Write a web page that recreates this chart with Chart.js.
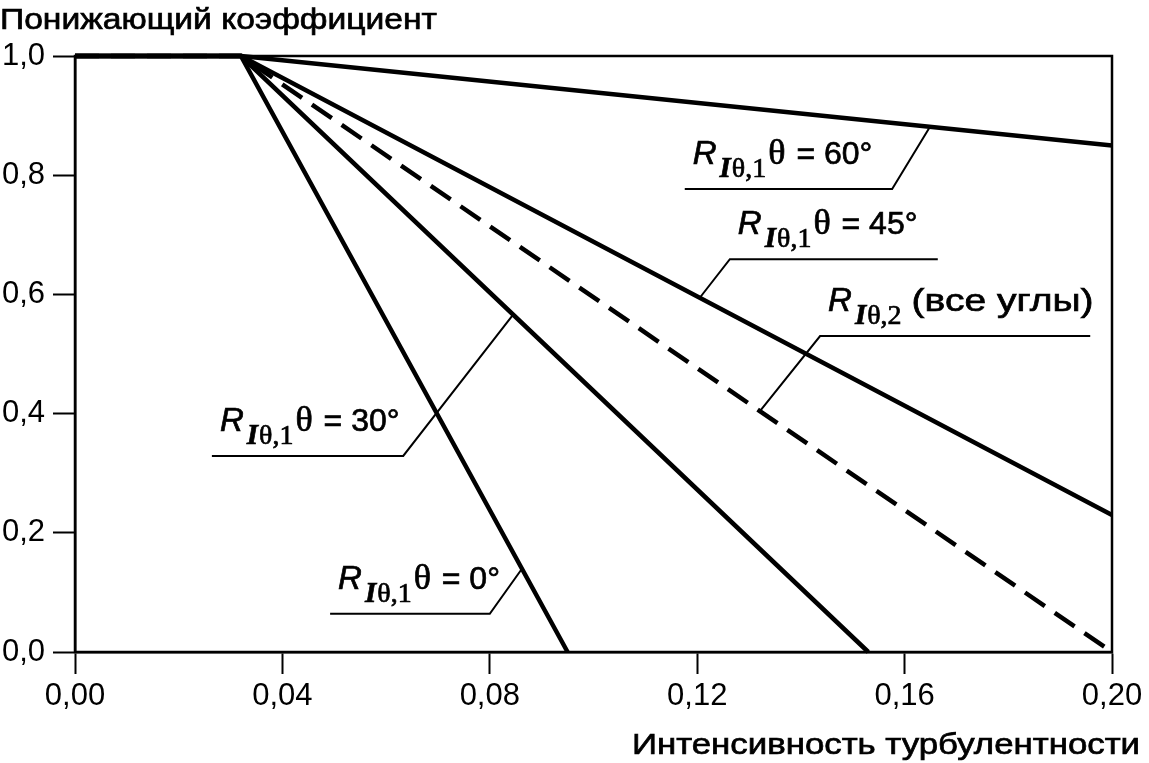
<!DOCTYPE html>
<html>
<head>
<meta charset="utf-8">
<script src="https://cdn.jsdelivr.net/npm/chart.js@4.4.0/dist/chart.umd.min.js"></script>
<style>
  html, body { margin: 0; padding: 0; background: #fff; }
  #wrap { width: 1149px; height: 763px; position: relative; }
</style>
</head>
<body>
<div id="wrap"><canvas id="chart"></canvas></div>
<script>
// reduction factor vs turbulence intensity

// curve vertices: x = turbulence intensity, y = reduction factor
const kneeX = 0.032;
const curveX0 = [0, kneeX, 0.095];   // R_Iθ,1, θ = 0°
const curveY0 = [1, 1, 0];
const curveX30 = [0, kneeX, 0.153];  // θ = 30°
const curveY30 = [1, 1, 0];
const curveX45 = [0, kneeX, 0.20];   // θ = 45°
const curveY45 = [1, 1, 0.23];
const curveX60 = [0, kneeX, 0.20];   // θ = 60°
const curveY60 = [1, 1, 0.85];
const curveXAll = [0, kneeX, 0.20];  // R_Iθ,2, all angles
const curveYAll = [1, 1, 0];

const xTicks = [0, 0.04, 0.08, 0.12, 0.16, 0.20];
const yTicks = [0, 0.2, 0.4, 0.6, 0.8, 1.0];

const yTitle = 'Понижающий коэффициент';
const xTitle = 'Интенсивность турбулентности';

// label pieces: R + subscript + tail
const labelSubs = ['Iθ,1', 'Iθ,1', 'Iθ,1', 'Iθ,1', 'Iθ,2'];
const labelTails = ['θ = 0°', 'θ = 30°', 'θ = 45°', 'θ = 60°', '(все углы)'];

const SANS = '"Liberation Sans", Arial, sans-serif';
const SERIF = '"Liberation Serif", "Times New Roman", serif';

// where the callouts sit (data units): shelf line, and the point on the curve it points to
const callouts = [
  { xs: curveX0, ys: curveY0, shelf: [0.0492, 0.0800], shelfY: 0.064, tipX: 0.0862, end: 'right' },
  { xs: curveX30, ys: curveY30, shelf: [0.0264, 0.0633], shelfY: 0.329, tipX: 0.0845, end: 'right' },
  { xs: curveX45, ys: curveY45, shelf: [0.1263, 0.1664], shelfY: 0.659, tipX: 0.1205, end: 'left' },
  { xs: curveX60, ys: curveY60, shelf: [0.1176, 0.1576], shelfY: 0.777, tipX: 0.1649, end: 'right' },
  { xs: curveXAll, ys: curveYAll, shelf: [0.1437, 0.1958], shelfY: 0.530, tipX: 0.1321, end: 'left' }
];

function pts(xs, ys) {
  return xs.map((x, i) => ({ x: x, y: ys[i] }));
}

function curveAt(xs, ys, x) {
  for (let i = 1; i < xs.length; i++) {
    if (x <= xs[i]) {
      const t = (x - xs[i - 1]) / (xs[i] - xs[i - 1]);
      return ys[i - 1] + t * (ys[i] - ys[i - 1]);
    }
  }
  return ys[ys.length - 1];
}

// fill + a hairline stroke so the text looks a bit heavier, like the scan
function ink(ctx, text, x, y) {
  ctx.fillText(text, x, y);
  ctx.lineWidth = 0.7;
  ctx.strokeText(text, x, y);
}

// text squeezed/stretched to a given width
function fitText(ctx, text, x, y, width) {
  const w = ctx.measureText(text).width;
  ctx.save();
  ctx.translate(x, y);
  ctx.scale(width / w, 1);
  ink(ctx, text, 0, 0);
  ctx.restore();
}

function drawLabel(ctx, x, y, sub, tail) {
  ctx.textAlign = 'left';
  ctx.textBaseline = 'alphabetic';
  ctx.font = 'italic 33px ' + SANS;
  ink(ctx, 'R', x, y);
  x += ctx.measureText('R').width + 3;
  ctx.font = 'italic bold 29px ' + SERIF;
  ink(ctx, sub[0], x, y + 13);
  x += ctx.measureText(sub[0]).width + 1;
  ctx.font = '28px ' + SERIF;
  ink(ctx, sub.slice(1), x, y + 13);
  x += ctx.measureText(sub.slice(1)).width + 2;
  if (tail[0] === 'θ') {
    ctx.font = '36px ' + SERIF;
    ink(ctx, 'θ', x, y);
    x += ctx.measureText('θ').width + 2;
    ctx.font = '32px ' + SANS;
    ink(ctx, tail.slice(1), x, y);
  } else {
    ctx.font = '32px ' + SANS;
    fitText(ctx, tail, x + 8, y, 182);
  }
}

const decor = {
  id: 'decor',
  beforeDatasetsDraw(chart) {
    const ctx = chart.ctx;
    const a = chart.chartArea;
    ctx.save();
    ctx.strokeStyle = '#000';
    ctx.lineWidth = 2.5;
    ctx.strokeRect(a.left, a.top, a.right - a.left, a.bottom - a.top);
    ctx.restore();
  },
  afterDraw(chart) {
    const ctx = chart.ctx;
    const xs = chart.scales.x;
    const ys = chart.scales.y;
    ctx.save();
    ctx.fillStyle = '#000';
    ctx.strokeStyle = '#000';

    // axis titles
    ctx.textAlign = 'left';
    ctx.textBaseline = 'alphabetic';
    ctx.font = '30px ' + SANS;
    fitText(ctx, yTitle, 0, 29, 437);
    ctx.font = '30px ' + SANS;
    fitText(ctx, xTitle, 632, 754, 508);

    // callouts
    callouts.forEach((c, i) => {
      const x1 = xs.getPixelForValue(c.shelf[0]);
      const x2 = xs.getPixelForValue(c.shelf[1]);
      const sy = ys.getPixelForValue(c.shelfY);
      const tx = xs.getPixelForValue(c.tipX);
      const ty = ys.getPixelForValue(curveAt(c.xs, c.ys, c.tipX));
      ctx.lineWidth = 2;
      ctx.beginPath();
      if (c.end === 'right') {
        ctx.moveTo(x1, sy);
        ctx.lineTo(x2, sy);
        ctx.lineTo(tx, ty);
      } else {
        ctx.moveTo(x2, sy);
        ctx.lineTo(x1, sy);
        ctx.lineTo(tx, ty);
      }
      ctx.stroke();
      drawLabel(ctx, x1 + 8, sy - 25, labelSubs[i], labelTails[i]);
    });
    ctx.restore();
  }
};

function line(xs, ys, dash) {
  return {
    data: pts(xs, ys),
    borderColor: '#000',
    borderWidth: 4.5,
    borderDash: dash || [],
    borderCapStyle: 'butt',
    pointRadius: 0,
    tension: 0,
    fill: false,
    clip: false
  };
}

new Chart(document.getElementById('chart'), {
  type: 'line',
  data: {
    datasets: [
      line(curveX0, curveY0),
      line(curveX30, curveY30),
      line(curveX45, curveY45),
      line(curveX60, curveY60),
      line(curveXAll, curveYAll, [24, 12])
    ]
  },
  options: {
    responsive: true,
    maintainAspectRatio: false,
    animation: false,
    events: [],
    layout: { padding: { top: 56, right: 37, left: 0, bottom: 0 } },
    plugins: { legend: { display: false }, tooltip: { enabled: false } },
    scales: {
      x: {
        type: 'linear',
        min: 0,
        max: 0.2,
        afterBuildTicks: (s) => { s.ticks = xTicks.map((v) => ({ value: v })); },
        afterFit: (s) => { s.height = 111; },
        border: { display: true, color: '#000', width: 2.5 },
        grid: { drawOnChartArea: false, drawTicks: true, tickLength: 22, tickColor: '#000', tickWidth: 2 },
        ticks: {
          color: '#000',
          font: { size: 31, family: SANS },
          padding: 4,
          maxRotation: 0,
          autoSkip: false,
          callback: (v) => v.toFixed(2).replace('.', ',')
        }
      },
      y: {
        min: 0,
        max: 1,
        afterBuildTicks: (s) => { s.ticks = yTicks.map((v) => ({ value: v })); },
        afterFit: (s) => { s.width = 75; },
        border: { display: true, color: '#000', width: 2.5 },
        grid: { drawOnChartArea: false, drawTicks: true, tickLength: 22, tickColor: '#000', tickWidth: 2 },
        ticks: {
          color: '#000',
          font: { size: 31, family: SANS },
          padding: 8,
          autoSkip: false,
          callback: (v) => v.toFixed(1).replace('.', ',')
        }
      }
    }
  },
  plugins: [decor]
});
</script>
</body>
</html>
